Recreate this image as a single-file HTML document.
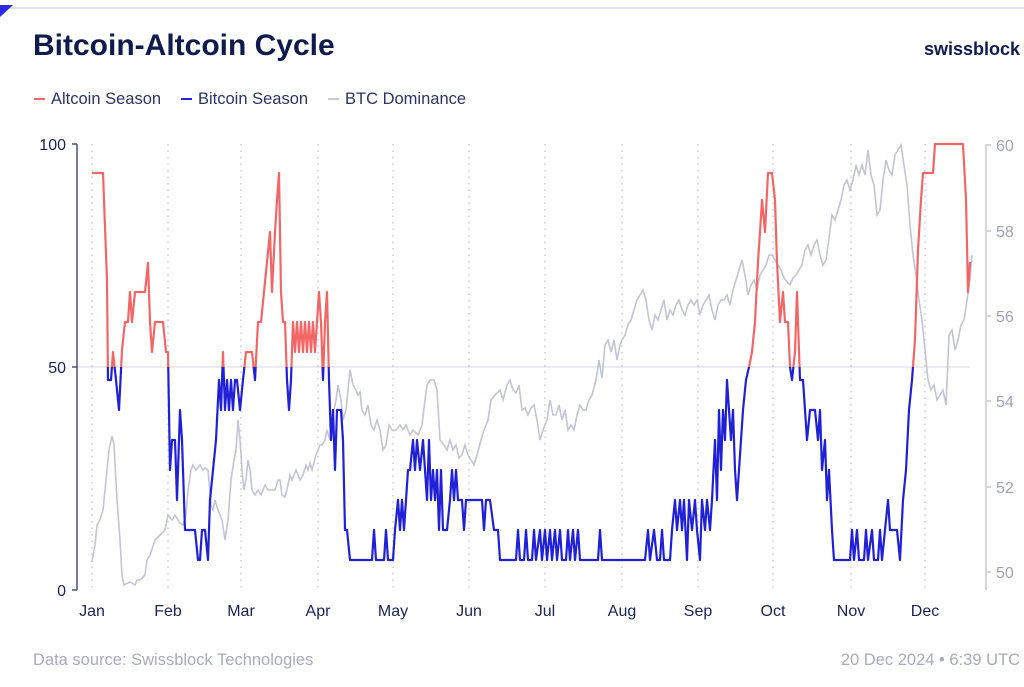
<!DOCTYPE html>
<html><head><meta charset="utf-8"><style>
body{margin:0;background:#fff;width:1024px;height:682px;overflow:hidden;font-family:"Liberation Sans",sans-serif;}
</style></head><body>
<svg width="1024" height="682" viewBox="0 0 1024 682" xmlns="http://www.w3.org/2000/svg" font-family="Liberation Sans, sans-serif">
<line x1="0" y1="8" x2="1024" y2="8" stroke="#d4d4e4" stroke-width="1.5"/>
<polygon points="0,5 13,5 0,17" fill="#2a2ae0"/>
<text x="33" y="55" font-size="30" font-weight="bold" fill="#0f1a4d">Bitcoin-Altcoin Cycle</text>
<text x="1020" y="55" font-size="18" font-weight="bold" fill="#0f1a4d" text-anchor="end">swissblock</text>
<line x1="34" y1="99" x2="45" y2="99" stroke="#f06a6a" stroke-width="2"/>
<text x="51" y="104" font-size="16.5" fill="#2b3466">Altcoin Season</text>
<line x1="181" y1="99" x2="192" y2="99" stroke="#2323d8" stroke-width="2"/>
<text x="198" y="104" font-size="16.5" fill="#2b3466">Bitcoin Season</text>
<line x1="328" y1="99" x2="339" y2="99" stroke="#c8c9d8" stroke-width="2"/>
<text x="345" y="104" font-size="16.5" fill="#2b3466">BTC Dominance</text>
<g stroke="#c8c8d4" stroke-width="1.5" stroke-dasharray="1.5,5">
<line x1="92" y1="144" x2="92" y2="590"/><line x1="168" y1="144" x2="168" y2="590"/><line x1="241" y1="144" x2="241" y2="590"/><line x1="318" y1="144" x2="318" y2="590"/><line x1="393" y1="144" x2="393" y2="590"/><line x1="469" y1="144" x2="469" y2="590"/><line x1="545" y1="144" x2="545" y2="590"/><line x1="622" y1="144" x2="622" y2="590"/><line x1="698" y1="144" x2="698" y2="590"/><line x1="773" y1="144" x2="773" y2="590"/><line x1="851" y1="144" x2="851" y2="590"/><line x1="925" y1="144" x2="925" y2="590"/>
</g>
<line x1="77" y1="367" x2="970" y2="367" stroke="#d8d8e2" stroke-width="1"/>
<line x1="77" y1="144" x2="77" y2="590" stroke="#4a5080" stroke-width="1.5"/>
<g stroke="#4a5080" stroke-width="1.5"><line x1="72" y1="144" x2="77" y2="144"/><line x1="72" y1="367" x2="77" y2="367"/><line x1="72" y1="590" x2="77" y2="590"/></g>
<line x1="986" y1="144" x2="986" y2="590" stroke="#c8c9d8" stroke-width="1.5"/>
<g stroke="#c8c9d8" stroke-width="1.5"><line x1="986" y1="145" x2="991" y2="145"/><line x1="986" y1="231" x2="991" y2="231"/><line x1="986" y1="316" x2="991" y2="316"/><line x1="986" y1="401" x2="991" y2="401"/><line x1="986" y1="487" x2="991" y2="487"/><line x1="986" y1="572" x2="991" y2="572"/></g>
<g font-size="16" fill="#1a2356" text-anchor="end">
<text x="66" y="150">100</text><text x="66" y="373">50</text><text x="66" y="596">0</text></g>
<g font-size="16" fill="#a0a2b8">
<text x="996" y="151">60</text><text x="996" y="237">58</text><text x="996" y="322">56</text><text x="996" y="407">54</text><text x="996" y="493">52</text><text x="996" y="578">50</text></g>
<g font-size="16" fill="#1a2356" text-anchor="middle">
<text x="92" y="616">Jan</text><text x="168" y="616">Feb</text><text x="241" y="616">Mar</text><text x="318" y="616">Apr</text><text x="393" y="616">May</text><text x="469" y="616">Jun</text><text x="545" y="616">Jul</text><text x="622" y="616">Aug</text><text x="698" y="616">Sep</text><text x="773" y="616">Oct</text><text x="851" y="616">Nov</text><text x="925" y="616">Dec</text></g>
<polyline fill="none" stroke="#c3c4d4" stroke-width="1.6" points="92,562 95,545 97,525 100,520 103,510 106,480 109,450 112,436 114,445 117,500 120,540 122,575 124,585 130,582 135,585 137,580 140,580 145,575 147,560 150,555 155,540 160,535 165,530 168,515 172,520 175,515 180,523 183,525 186,515 188,490 191,470 193,465 196,470 200,465 203,470 205,468 208,470 211,505 213,510 215,500 218,510 220,515 222,520 225,540 228,520 231,480 234,460 236,450 238,420 240,440 242,470 244,490 246,480 248,460 250,470 252,490 255,495 258,490 261,495 265,485 268,490 275,490 278,480 280,480 282,495 285,497 288,485 290,475 292,480 296,470 300,480 303,475 306,465 308,470 310,463 312,470 316,455 320,445 322,445 325,440 327,430 330,440 333,415 336,400 338,385 341,400 343,420 346,410 348,390 350,370 353,385 356,390 358,395 360,392 362,410 365,415 368,405 371,425 374,430 377,420 380,430 383,450 386,445 389,425 392,430 396,430 400,425 403,430 406,425 410,435 413,430 418,435 422,425 425,400 427,385 430,380 434,380 437,390 440,440 444,445 447,450 450,440 453,450 456,445 459,458 462,455 465,445 468,455 471,460 474,465 477,455 481,440 484,430 488,420 491,400 495,395 500,390 503,400 507,385 510,380 513,390 516,393 519,385 522,410 525,408 528,415 531,408 534,405 537,420 540,440 543,430 547,420 550,400 553,415 556,415 559,405 562,420 565,410 568,430 571,425 574,430 577,415 580,405 583,410 586,410 589,400 592,395 596,380 599,360 602,378 605,345 608,340 611,352 614,340 617,360 620,345 622,340 625,335 628,325 631,320 634,310 637,300 640,295 643,290 646,300 649,320 652,330 655,315 658,320 661,310 664,300 667,320 670,310 673,315 676,305 679,300 682,310 685,315 688,305 691,300 694,305 697,300 700,315 703,305 706,300 709,295 712,310 715,320 718,305 721,300 724,300 727,295 730,305 733,290 736,280 739,270 742,260 745,275 748,295 751,285 754,280 757,290 760,275 763,270 766,265 769,255 772,255 775,260 778,265 781,270 784,278 787,282 790,285 793,278 796,275 799,270 802,265 805,250 808,245 811,255 814,245 817,240 820,255 823,265 826,260 829,238 832,215 835,220 838,210 841,200 844,185 847,180 850,190 853,180 856,165 859,175 862,165 865,175 868,150 871,175 874,185 877,215 880,210 883,180 886,160 889,170 892,175 895,155 898,150 901,145 904,165 907,185 910,225 913,255 916,275 919,300 922,320 925,350 928,380 931,390 934,385 937,400 940,395 943,390 946,405 949,335 952,330 955,350 958,340 961,325 964,320 967,300 970,280 972,255"/>
<defs>
<clipPath id="top"><rect x="0" y="0" width="1024" height="367"/></clipPath>
<clipPath id="bot"><rect x="0" y="367" width="1024" height="315"/></clipPath>
<polyline id="idx" fill="none" stroke-width="2.2" stroke-linejoin="round" points="92,173 103,173 107,280 108,380 111,380 113,352 116,380 119,410 122,350 125,322 128,322 130,292 132,322 135,292 140,292 145,292 148,263 150,322 152,352 155,322 163,322 166,352 168,352 170,470 172,440 175,440 177,500 180,410 182,440 185,530 195,530 198,560 200,560 202,530 205,530 208,560 210,500 213,470 216,440 219,380 221,410 223,352 225,410 227,380 229,410 231,380 233,410 235,380 237,380 240,410 243,380 246,352 252,352 255,380 258,322 261,322 264,292 267,262 270,232 272,292 275,232 277,200 279,173 281,292 283,322 285,322 287,380 289,410 291,380 293,322 295,352 297,322 299,352 301,322 303,352 305,322 307,352 309,322 311,352 313,322 315,352 317,322 319,292 321,322 323,380 325,322 327,292 329,380 331,440 333,410 335,470 337,410 341,410 343,440 345,530 347,530 350,560 352,560 372,560 374,530 376,560 384,560 386,530 388,560 393,560 395,530 398,500 400,530 402,500 404,530 406,500 408,470 410,470 413,440 415,470 417,440 420,470 423,440 425,470 427,500 429,440 431,500 433,470 435,500 437,470 439,530 441,470 443,530 447,530 450,500 452,470 454,500 456,470 458,500 462,500 464,530 466,500 482,500 484,530 486,500 490,500 494,530 498,530 500,560 516,560 518,530 520,560 524,560 526,530 528,560 532,560 534,530 536,560 540,530 542,560 545,530 547,560 550,530 552,560 555,530 557,560 560,530 562,560 566,560 568,530 570,560 573,530 575,560 578,530 580,560 598,560 600,530 602,560 645,560 648,530 650,560 654,530 657,560 660,560 662,530 664,560 670,560 672,530 675,500 677,530 680,500 682,530 684,500 687,560 689,500 692,530 695,500 697,530 700,560 702,500 705,530 707,500 710,530 712,500 715,440 717,500 719,410 721,470 723,410 725,440 727,380 729,410 731,440 733,410 735,470 737,500 739,470 741,440 743,410 746,380 749,367 752,352 755,322 758,262 760,232 762,200 765,232 768,173 772,173 775,200 777,262 780,322 783,292 785,322 788,322 790,367 792,380 795,352 797,292 800,380 803,380 805,410 807,440 810,410 815,410 818,440 820,410 822,470 825,440 827,500 829,470 832,530 834,560 850,560 852,530 854,560 857,530 859,560 864,560 866,530 868,560 872,530 874,560 878,560 880,530 882,560 885,530 888,500 890,530 893,530 897,530 900,560 903,500 906,470 909,410 912,380 915,340 918,250 921,200 923,173 933,173 935,144 963,144 966,200 968,292 970,262"/>
</defs>
<use href="#idx" stroke="#f26666" clip-path="url(#top)"/>
<use href="#idx" stroke="#2020d6" clip-path="url(#bot)"/>
<text x="33" y="665" font-size="16.5" fill="#a8aabd">Data source: Swissblock Technologies</text>
<text x="1020" y="665" font-size="16.5" fill="#a8aabd" text-anchor="end">20 Dec 2024 • 6:39 UTC</text>
</svg>
</body></html>
